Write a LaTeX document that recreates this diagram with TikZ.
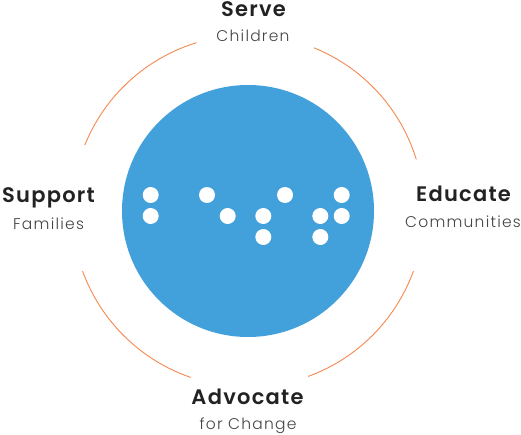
\documentclass[tikz,border=0pt]{standalone}
\usepackage{fontspec}
\usetikzlibrary{calc}
\setmainfont{Poppins}
\newfontfamily\titlefont{Poppins SemiBold}[LetterSpace=6]
\newfontfamily\subfont{Poppins Light}[LetterSpace=8]
\definecolor{circblue}{HTML}{42A0DA}
\definecolor{arcorange}{HTML}{F4884F}
\definecolor{titlegray}{HTML}{222222}
\definecolor{subgray}{HTML}{444444}
\tikzset{
  title/.style={anchor=base, inner sep=0pt, text=titlegray, font=\titlefont\fontsize{21}{25}\selectfont},
  subtitle/.style={anchor=base, inner sep=0pt, text=subgray, font=\subfont\fontsize{15.5}{18}\selectfont},
  dot/.style={circle, fill=white, minimum size=16pt, inner sep=0pt},
  ring/.style={draw=arcorange, line width=0.9pt}
}
\begin{document}
\begin{tikzpicture}[x=1pt,y=1pt]
\useasboundingbox (0,0) rectangle (521,434);
\coordinate (c) at (248,223);
\fill[circblue] (c) circle (126);
% arcs
\draw[ring] ($(c)+(17:176)$) arc (17:68:176);
\draw[ring] ($(c)+(107:176)$) arc (107:158:176);
\draw[ring] ($(c)+(200:176)$) arc (200:251:176);
\draw[ring] ($(c)+(290:176)$) arc (290:340:176);
% braille dots
\node[dot] (d1) at (150.7,239) {};
\node[dot] (d2) at (150.7,218) {};
\node[dot] (d3) at (207,239) {};
\node[dot] (d4) at (227.7,218) {};
\node[dot] (d5) at (263.3,218) {};
\node[dot] (d6) at (263.3,197) {};
\node[dot] (d7) at (285,239) {};
\node[dot] (d8) at (320.3,218) {};
\node[dot] (d9) at (320.3,197) {};
\node[dot] (d10) at (341.7,239) {};
\node[dot] (d11) at (341.7,218) {};
% labels
\node[title] (serve) at (253.5,417) {Serve};
\node[subtitle] (children) at (253,392) {Children};
\node[title] (support) at (48.5,231) {Support};
\node[subtitle] (families) at (48.5,205) {Families};
\node[title] (educate) at (463.5,233) {Educate};
\node[subtitle] (communities) at (463,207) {Communities};
\node[title] (advocate) at (247.5,30) {Advocate};
\node[subtitle] (change) at (248,5) {for Change};
\end{tikzpicture}
\end{document}
